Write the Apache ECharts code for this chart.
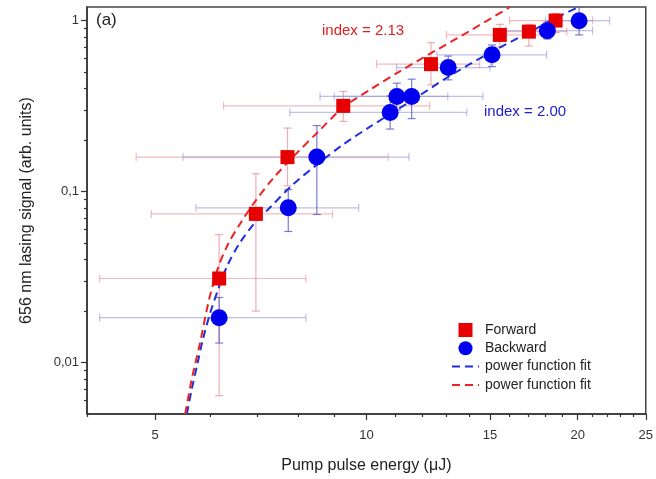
<!DOCTYPE html>
<html>
<head>
<meta charset="utf-8">
<title>656 nm lasing signal</title>
<script src="https://cdn.jsdelivr.net/npm/echarts@6/dist/echarts.min.js"></script>
<style>
  html, body { margin: 0; padding: 0; background: #fff; }
  #chart { width: 656px; height: 479px; }
</style>
</head>
<body>
<div id="chart"></div>
<script>
// forward (red squares): value, x error range, y error range
var fwdX    = [6.17, 6.96, 7.72, 9.27, 12.36, 15.49, 17.04, 18.6];
var fwdY    = [0.031, 0.074, 0.159, 0.317, 0.556, 0.824, 0.861, 1.0];
var fwdXLo  = [4.17, 4.94, 4.70, 6.26, 10.34, 13.0, 15.2, 16.0];
var fwdXHi  = [8.2, 8.95, 10.74, 12.3, 14.5, 18.3, 19.3, 21.0];
var fwdYLo  = [0.0064, 0.020, 0.108, 0.257, 0.421, 0.70, 0.71, 0.85];
var fwdYHi  = [0.056, 0.127, 0.235, 0.385, 0.743, 0.95, 0.95, 1.1];

// backward (blue circles)
var bwdX    = [6.17, 7.74, 8.5, 10.81, 11.05, 11.6, 13.08, 15.1, 18.1, 20.09];
var bwdY    = [0.0183, 0.0803, 0.159, 0.29, 0.36, 0.36, 0.531, 0.63, 0.873, 0.998];
var bwdXLo  = [4.17, 5.72, 5.48, 7.78, 8.59, 9.0, 11.04, 12.6, 15.8, 18.0];
var bwdXHi  = [8.2, 9.75, 11.5, 13.9, 13.06, 14.65, 15.0, 18.06, 21.0, 22.2];
var bwdYLo  = [0.013, 0.0584, 0.0734, 0.232, 0.30, 0.267, 0.45, 0.538, 0.78, 0.824];
var bwdYHi  = [0.024, 0.1027, 0.243, 0.362, 0.43, 0.454, 0.62, 0.72, 0.98, 1.2];

// power function fits
var fitRedX  = [5.52, 5.64, 5.79, 5.97, 6.15, 6.36, 6.64, 6.94, 7.38, 7.92, 8.55, 9.28, 10.1, 11.16, 12.52, 14.04, 16.02];
var fitRedY  = [0.005, 0.008, 0.0128, 0.0234, 0.036, 0.0497, 0.0668, 0.0874, 0.1206, 0.1644, 0.2250, 0.312, 0.392, 0.505, 0.664, 0.87, 1.2];
var fitBlueX = [5.55, 5.64, 5.74, 5.85, 5.99, 6.15, 6.35, 6.61, 6.94, 7.29, 7.83, 8.5, 9.26, 10.12, 11.53, 13.15, 14.99, 17.1, 18.86, 20.07];
var fitBlueY = [0.005, 0.00699, 0.00965, 0.01369, 0.01941, 0.0268, 0.0375, 0.0504, 0.0659, 0.0806, 0.1084, 0.1437, 0.188, 0.2394, 0.3349, 0.4749, 0.647, 0.858, 1.064, 1.2];

// axis ticks
var xMajor = [5, 10, 15, 20, 25];
var xMinor = [4, 6, 7, 8, 9, 11, 12, 13, 14, 16, 17, 18, 19, 21, 22, 23, 24];
var yMajor = [0.01, 0.1, 1];
var yMinor = [0.006, 0.007, 0.008, 0.009, 0.02, 0.03, 0.04, 0.05, 0.06, 0.07, 0.08, 0.09,
              0.2, 0.3, 0.4, 0.5, 0.6, 0.7, 0.8, 0.9];

var FONT = '"Liberation Sans", Arial, sans-serif';

function zip(a, b) {
  var out = [];
  for (let i = 0; i < a.length; i++) out.push([a[i], b[i]]);
  return out;
}

function errRows(x, y, xlo, xhi, ylo, yhi) {
  var out = [];
  for (let i = 0; i < x.length; i++) out.push([x[i], y[i], xlo[i], xhi[i], ylo[i], yhi[i]]);
  return out;
}

function errorBars(hColor, vColor) {
  return function (params, api) {
    var x = api.value(0), y = api.value(1);
    var l = api.coord([api.value(2), y]);
    var r = api.coord([api.value(3), y]);
    var b = api.coord([x, api.value(4)]);
    var t = api.coord([x, api.value(5)]);
    var c = 4;
    var hs = { stroke: hColor, lineWidth: 1.2 };
    var vs = { stroke: vColor, lineWidth: 1.2 };
    return {
      type: 'group',
      children: [
        { type: 'line', shape: { x1: l[0], y1: l[1], x2: r[0], y2: r[1] }, style: hs },
        { type: 'line', shape: { x1: l[0], y1: l[1] - c, x2: l[0], y2: l[1] + c }, style: hs },
        { type: 'line', shape: { x1: r[0], y1: r[1] - c, x2: r[0], y2: r[1] + c }, style: hs },
        { type: 'line', shape: { x1: b[0], y1: b[1], x2: t[0], y2: t[1] }, style: vs },
        { type: 'line', shape: { x1: b[0] - c, y1: b[1], x2: b[0] + c, y2: b[1] }, style: vs },
        { type: 'line', shape: { x1: t[0] - c, y1: t[1], x2: t[0] + c, y2: t[1] }, style: vs }
      ]
    };
  };
}

var chart = echarts.init(document.getElementById('chart'), null, { renderer: 'canvas' });

var axisLine = { show: true, lineStyle: { color: '#333', width: 1.5 } };

var option = {
  animation: false,
  textStyle: { fontFamily: FONT },
  grid: {
    left: 87, right: 10, top: 7, bottom: 65,
    show: true, borderColor: '#444', borderWidth: 1.5, backgroundColor: '#fff'
  },
  xAxis: [
    {
      type: 'log', logBase: 10, min: 4, max: 25,
      name: 'Pump pulse energy (\u03bcJ)',
      nameLocation: 'middle', nameGap: 44,
      nameTextStyle: { fontSize: 16, color: '#222', fontFamily: FONT },
      axisLine: axisLine,
      axisTick: { show: true, customValues: xMajor, length: 6, lineStyle: { color: '#333', width: 1.2 } },
      axisLabel: { customValues: xMajor, margin: 15, fontSize: 13, color: '#333', fontFamily: FONT,
                   formatter: function (v) { return String(Math.round(v)); } },
      splitLine: { show: false }
    },
    {
      type: 'log', logBase: 10, min: 4, max: 25, position: 'bottom',
      axisLine: { show: false },
      axisTick: { show: true, customValues: xMinor, length: 3, lineStyle: { color: '#333', width: 1.2 } },
      axisLabel: { show: false },
      splitLine: { show: false }
    }
  ],
  yAxis: [
    {
      type: 'log', logBase: 10, min: 0.005, max: 1.2,
      name: '656 nm lasing signal (arb. units)',
      nameLocation: 'middle', nameGap: 52,
      nameTextStyle: { fontSize: 16, color: '#222', fontFamily: FONT },
      axisLine: axisLine,
      axisTick: { show: true, customValues: yMajor, length: 6, lineStyle: { color: '#333', width: 1.2 } },
      axisLabel: { customValues: yMajor, fontSize: 13, color: '#333', fontFamily: FONT,
                   formatter: function (v) { return String(Math.round(v * 100) / 100).replace('.', ','); } },
      splitLine: { show: false }
    },
    {
      type: 'log', logBase: 10, min: 0.005, max: 1.2, position: 'left',
      axisLine: { show: false },
      axisTick: { show: true, customValues: yMinor, length: 3, lineStyle: { color: '#333', width: 1.2 } },
      axisLabel: { show: false },
      splitLine: { show: false }
    }
  ],
  legend: {
    orient: 'vertical', left: 446, top: 318,
    itemWidth: 27, itemHeight: 14, itemGap: 4.3,
    textStyle: { fontSize: 14, color: '#222', fontFamily: FONT, padding: [0, 0, 0, 1] },
    data: [
      { name: 'Forward', icon: 'path://M0,0L10,0L10,10L0,10Z' },
      { name: 'Backward', icon: 'circle' },
      { name: 'fitBlue', itemStyle: { opacity: 0 } },
      { name: 'fitRed', itemStyle: { opacity: 0 } }
    ],
    formatter: function (name) {
      return name.indexOf('fit') === 0 ? 'power function fit' : name;
    }
  },
  series: [
    {
      name: 'ForwardErr', type: 'custom', xAxisIndex: 0, yAxisIndex: 0,
      renderItem: errorBars('rgba(235,140,150,0.6)', 'rgba(225,120,130,0.6)'),
      encode: { x: 0, y: 1 }, clip: true, z: 1,
      data: errRows(fwdX, fwdY, fwdXLo, fwdXHi, fwdYLo, fwdYHi)
    },
    {
      name: 'BackwardErr', type: 'custom', xAxisIndex: 0, yAxisIndex: 0,
      renderItem: errorBars('rgba(140,140,215,0.55)', 'rgba(90,90,200,0.8)'),
      encode: { x: 0, y: 1 }, clip: true, z: 1,
      data: errRows(bwdX, bwdY, bwdXLo, bwdXHi, bwdYLo, bwdYHi)
    },
    {
      name: 'fitBlue', type: 'line', xAxisIndex: 0, yAxisIndex: 0,
      smooth: 0.3, showSymbol: false, symbol: 'none', z: 2,
      lineStyle: { color: '#1f2fdd', width: 2, type: [8, 5] },
      itemStyle: { color: '#1f2fdd' },
      data: zip(fitBlueX, fitBlueY)
    },
    {
      name: 'fitRed', type: 'line', xAxisIndex: 0, yAxisIndex: 0,
      smooth: 0.3, showSymbol: false, symbol: 'none', z: 2,
      lineStyle: { color: '#ee2222', width: 2, type: [8, 5] },
      itemStyle: { color: '#ee2222' },
      data: zip(fitRedX, fitRedY)
    },
    {
      name: 'Forward', type: 'scatter', xAxisIndex: 0, yAxisIndex: 0,
      symbol: 'rect', symbolSize: 14, z: 3,
      itemStyle: { color: '#e60000', opacity: 1 },
      data: zip(fwdX, fwdY)
    },
    {
      name: 'Backward', type: 'scatter', xAxisIndex: 0, yAxisIndex: 0,
      symbol: 'circle', symbolSize: 17, z: 3,
      itemStyle: { color: '#0000ee', opacity: 1 },
      data: zip(bwdX, bwdY)
    }
  ],
  graphic: [
    { type: 'text', left: 96, top: 12, z: 10,
      style: { text: '(a)', fontSize: 17, fill: '#222', fontFamily: FONT } },
    { type: 'text', left: 322, top: 23, z: 10,
      style: { text: 'index = 2.13', fontSize: 15, fill: '#e02020', fontFamily: FONT } },
    { type: 'text', left: 484, top: 104, z: 10,
      style: { text: 'index = 2.00', fontSize: 15, fill: '#2020cc', fontFamily: FONT } }
  ]
};

chart.setOption(option);
</script>
</body>
</html>
